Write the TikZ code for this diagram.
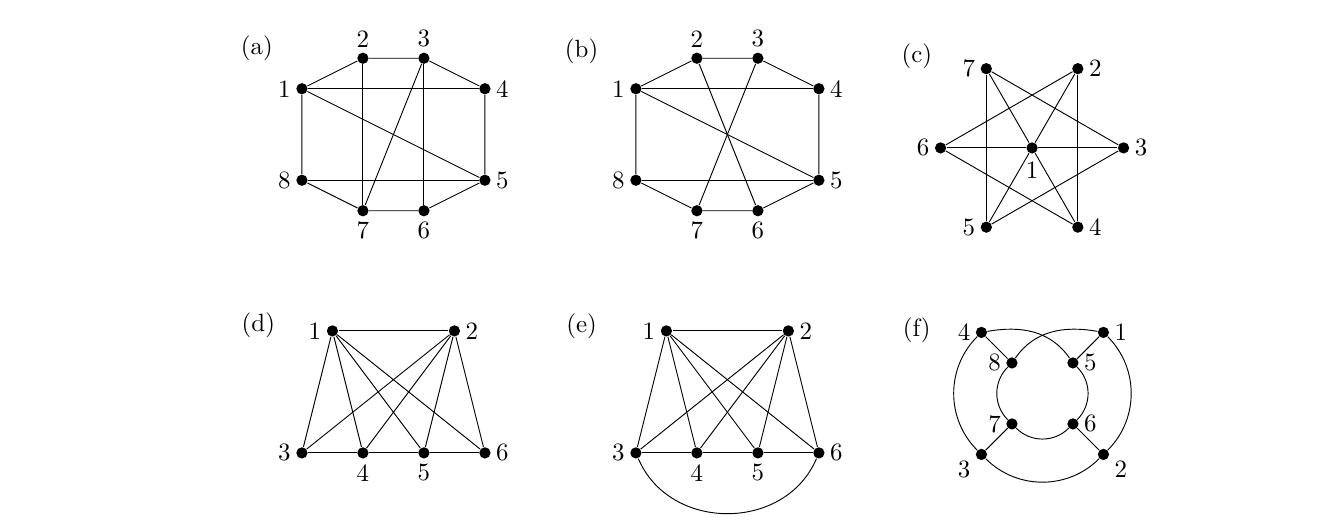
\documentclass[tikz,border=0pt]{standalone}
\usepackage{amsmath}
\usepackage{tikz}

\tikzset{
  vtx/.style={circle, fill=black, inner sep=0pt, minimum size=0.17cm},
  every label/.append style={inner sep=2pt},
}

\begin{document}
\begin{tikzpicture}[x=0.46cm, y=0.46cm, font=\fontsize{10.7}{13}\selectfont]
  \useasboundingbox (0,0) rectangle (43.74,17.21);

  % (a)
  \begin{scope}[shift={(9.90,10.30)}]
    \node (pa) at (-1.48,5.33) {(a)};
    \node[vtx, label=left:1]  (a1) at (0,4) {};
    \node[vtx, label=above:2] (a2) at (2,5) {};
    \node[vtx, label=above:3] (a3) at (4,5) {};
    \node[vtx, label=right:4] (a4) at (6,4) {};
    \node[vtx, label=right:5] (a5) at (6,1) {};
    \node[vtx, label=below:6] (a6) at (4,0) {};
    \node[vtx, label=below:7] (a7) at (2,0) {};
    \node[vtx, label=left:8]  (a8) at (0,1) {};

    \draw (a1) -- (a2) -- (a3) -- (a4) -- (a5) -- (a6) -- (a7) -- (a8) -- (a1);
    \foreach \u/\v in {1/4, 8/5, 1/5, 2/7, 3/6, 3/7}
      \draw (a\u) -- (a\v);
  \end{scope}

  % (b)
  \begin{scope}[shift={(20.85,10.30)}]
    \node (pb) at (-1.78,5.22) {(b)};
    \node[vtx, label=left:1]  (b1) at (0,4) {};
    \node[vtx, label=above:2] (b2) at (2,5) {};
    \node[vtx, label=above:3] (b3) at (4,5) {};
    \node[vtx, label=right:4] (b4) at (6,4) {};
    \node[vtx, label=right:5] (b5) at (6,1) {};
    \node[vtx, label=below:6] (b6) at (4,0) {};
    \node[vtx, label=below:7] (b7) at (2,0) {};
    \node[vtx, label=left:8]  (b8) at (0,1) {};

    \draw (b1) -- (b2) -- (b3) -- (b4) -- (b5) -- (b6) -- (b7) -- (b8) -- (b1);
    \foreach \u/\v in {1/4, 8/5, 1/5, 2/6, 3/7}
      \draw (b\u) -- (b\v);
  \end{scope}

  % (c)
  \begin{scope}[shift={(33.84,12.36)}]
    \node (pc) at (-3.78,2.99) {(c)};
    \node[vtx, label={[label distance=1pt]below:1}] (c1) at (0,0) {};
    \node[vtx, label=right:2] (c2) at (60:3) {};
    \node[vtx, label=right:3] (c3) at (0:3) {};
    \node[vtx, label=right:4] (c4) at (-60:3) {};
    \node[vtx, label=left:5]  (c5) at (-120:3) {};
    \node[vtx, label=left:6]  (c6) at (180:3) {};
    \node[vtx, label=left:7]  (c7) at (120:3) {};

    \foreach \v in {2,...,7}
      \draw (c1) -- (c\v);
    \foreach \u/\v in {7/5, 2/4, 7/3, 6/2, 6/4, 5/3}
      \draw (c\u) -- (c\v);
  \end{scope}

  % (d)
  \begin{scope}[shift={(9.90,2.36)}]
    \node (pd) at (-1.43,4.20) {(d)};
    \node[vtx, label=left:1]  (d1) at (1,4) {};
    \node[vtx, label=right:2] (d2) at (5,4) {};
    \node[vtx, label=left:3]  (d3) at (0,0) {};
    \node[vtx, label=below:4] (d4) at (2,0) {};
    \node[vtx, label=below:5] (d5) at (4,0) {};
    \node[vtx, label=right:6] (d6) at (6,0) {};

    \draw (d1) -- (d2);
    \draw (d3) -- (d4) -- (d5) -- (d6);
    \foreach \v in {3,...,6} {
      \draw (d1) -- (d\v);
      \draw (d2) -- (d\v);
    }
  \end{scope}

  % (e)
  \begin{scope}[shift={(20.85,2.36)}]
    \node (pe) at (-1.78,4.14) {(e)};
    \node[vtx, label=left:1]  (e1) at (1,4) {};
    \node[vtx, label=right:2] (e2) at (5,4) {};
    \node[vtx, label=left:3]  (e3) at (0,0) {};
    \node[vtx, label=below:4] (e4) at (2,0) {};
    \node[vtx, label=below:5] (e5) at (4,0) {};
    \node[vtx, label=right:6] (e6) at (6,0) {};

    \draw (e1) -- (e2);
    \draw (e3) -- (e4) -- (e5) -- (e6);
    \foreach \v in {3,...,6} {
      \draw (e1) -- (e\v);
      \draw (e2) -- (e\v);
    }
    \draw (e3) to[out=-67, in=-113, looseness=1.15] (e6);
  \end{scope}

  % (f)
  \begin{scope}[shift={(34.18,4.31)}]
    \node (pf) at (-4.12,2.06) {(f)};
    \node[vtx, label=right:1] (f1) at (2,2) {};
    \node[vtx, label=-10:2]   (f2) at (2,-2) {};
    \node[vtx, label=190:3]   (f3) at (-2,-2) {};
    \node[vtx, label=left:4]  (f4) at (-2,2) {};
    \node[vtx, label=right:5] (f5) at (1,1) {};
    \node[vtx, label=right:6] (f6) at (1,-1) {};
    \node[vtx, label=left:7]  (f7) at (-1,-1) {};
    \node[vtx, label=left:8]  (f8) at (-1,1) {};

    \foreach \u/\v in {4/8, 1/5, 7/3, 6/2}
      \draw (f\u) -- (f\v);
    % outer and inner arcs
    \draw (f4) to[out=225, in=135] (f3) to[out=315, in=225] (f2) to[out=45, in=315] (f1);
    \draw (f8) to[out=225, in=135] (f7) to[out=315, in=225] (f6) to[out=45, in=315] (f5);
    % crossing arcs
    \draw (f4) to[out=10, in=125] (f5);
    \draw (f1) to[out=170, in=55] (f8);
  \end{scope}
\end{tikzpicture}
\end{document}
